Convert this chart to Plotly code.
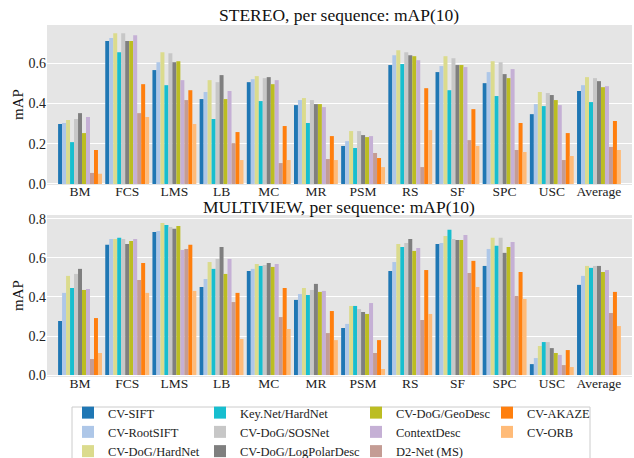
import plotly.graph_objects as go

categories = ["BM", "FCS", "LMS", "LB", "MC", "MR", "PSM", "RS", "SF", "SPC", "USC", "Average"]

methods = ["CV-SIFT", "CV-RootSIFT", "CV-DoG/HardNet", "Key.Net/HardNet", "CV-DoG/SOSNet",
           "CV-DoG/LogPolarDesc", "CV-DoG/GeoDesc", "ContextDesc", "D2-Net (MS)", "CV-AKAZE", "CV-ORB"]

colors = ["#1f77b4", "#aec7e8", "#dbdb8d", "#17becf", "#c7c7c7",
          "#7f7f7f", "#bcbd22", "#c5b0d5", "#c49c94", "#ff7f0e", "#ffbb78"]

# STEREO mAP(10), per method, per category
stereo_sift       = [0.298, 0.710, 0.566, 0.422, 0.506, 0.392, 0.189, 0.591, 0.556, 0.501, 0.347, 0.462]
stereo_rootsift   = [0.303, 0.725, 0.605, 0.457, 0.521, 0.417, 0.213, 0.640, 0.586, 0.556, 0.397, 0.491]
stereo_hardnet    = [0.318, 0.749, 0.655, 0.516, 0.536, 0.427, 0.263, 0.665, 0.635, 0.610, 0.457, 0.531]
stereo_keynet     = [0.208, 0.655, 0.491, 0.323, 0.412, 0.303, 0.179, 0.596, 0.466, 0.437, 0.387, 0.407]
stereo_sosnet     = [0.323, 0.749, 0.650, 0.506, 0.526, 0.417, 0.263, 0.655, 0.625, 0.605, 0.452, 0.526]
stereo_logpolar   = [0.352, 0.710, 0.605, 0.541, 0.531, 0.397, 0.243, 0.640, 0.591, 0.546, 0.442, 0.511]
stereo_geodesc    = [0.253, 0.710, 0.610, 0.422, 0.496, 0.397, 0.233, 0.635, 0.591, 0.526, 0.417, 0.481]
stereo_contextdesc= [0.333, 0.739, 0.516, 0.462, 0.516, 0.382, 0.238, 0.615, 0.581, 0.571, 0.392, 0.486]
stereo_d2net      = [0.055, 0.352, 0.417, 0.203, 0.104, 0.124, 0.154, 0.084, 0.218, 0.169, 0.119, 0.184]
stereo_akaze      = [0.169, 0.496, 0.466, 0.258, 0.288, 0.238, 0.129, 0.476, 0.372, 0.303, 0.253, 0.313]
stereo_orb        = [0.051, 0.333, 0.298, 0.119, 0.119, 0.119, 0.084, 0.268, 0.189, 0.159, 0.139, 0.169]

# MULTIVIEW mAP(10)
multi_sift        = [0.277, 0.667, 0.733, 0.451, 0.533, 0.385, 0.241, 0.533, 0.672, 0.559, 0.056, 0.462]
multi_rootsift    = [0.421, 0.697, 0.738, 0.492, 0.544, 0.415, 0.262, 0.579, 0.677, 0.646, 0.087, 0.508]
multi_hardnet     = [0.508, 0.697, 0.779, 0.579, 0.569, 0.446, 0.354, 0.672, 0.713, 0.703, 0.149, 0.559]
multi_keynet      = [0.446, 0.703, 0.769, 0.544, 0.559, 0.410, 0.354, 0.656, 0.744, 0.662, 0.169, 0.549]
multi_sosnet      = [0.518, 0.697, 0.759, 0.595, 0.564, 0.436, 0.338, 0.677, 0.697, 0.703, 0.169, 0.559]
multi_logpolar    = [0.544, 0.672, 0.749, 0.656, 0.574, 0.467, 0.323, 0.697, 0.692, 0.626, 0.138, 0.559]
multi_geodesc     = [0.436, 0.687, 0.764, 0.518, 0.554, 0.426, 0.313, 0.636, 0.692, 0.656, 0.113, 0.528]
multi_contextdesc = [0.441, 0.697, 0.641, 0.595, 0.569, 0.431, 0.369, 0.651, 0.718, 0.682, 0.103, 0.538]
multi_d2net       = [0.082, 0.487, 0.646, 0.374, 0.297, 0.215, 0.113, 0.282, 0.523, 0.405, 0.051, 0.318]
multi_akaze       = [0.292, 0.574, 0.667, 0.421, 0.446, 0.328, 0.179, 0.538, 0.585, 0.528, 0.128, 0.426]
multi_orb         = [0.113, 0.421, 0.431, 0.185, 0.236, 0.179, 0.031, 0.313, 0.451, 0.390, 0.041, 0.251]

stereo = [stereo_sift, stereo_rootsift, stereo_hardnet, stereo_keynet, stereo_sosnet, stereo_logpolar,
          stereo_geodesc, stereo_contextdesc, stereo_d2net, stereo_akaze, stereo_orb]
multi = [multi_sift, multi_rootsift, multi_hardnet, multi_keynet, multi_sosnet, multi_logpolar,
         multi_geodesc, multi_contextdesc, multi_d2net, multi_akaze, multi_orb]

W, H = 634, 458
FONT = "Liberation Serif"
BG = "#e5e5e5"

def px(x):
    return x / W

def py(y):
    return 1 - y / H

legend_cols = ["legend", "legend", "legend", "legend2", "legend2", "legend2",
               "legend3", "legend3", "legend3", "legend4", "legend4"]

fig = go.Figure()
for i, m in enumerate(methods):
    fig.add_trace(go.Bar(x=categories, y=stereo[i], name=m, marker=dict(color=colors[i], line=dict(width=0)),
                         xaxis="x", yaxis="y", legend=legend_cols[i], showlegend=True))
for i, m in enumerate(methods):
    fig.add_trace(go.Bar(x=categories, y=multi[i], name=m, marker=dict(color=colors[i], line=dict(width=0)),
                         xaxis="x2", yaxis="y2", showlegend=False))

xdom = [px(47), px(632)]
axis_common = dict(showgrid=False, zeroline=False, showline=False, ticks="", ticklabelstandoff=-4,
                   tickfont=dict(family=FONT, size=13.5, color="#222"), automargin=False)
yaxis_common = dict(showgrid=True, gridcolor="white", gridwidth=1.2, zeroline=False, showline=False,
                    ticks="", tickfont=dict(family=FONT, size=14, color="#222"), tickformat=".1f",
                    automargin=False)

leg_common = dict(font=dict(family=FONT, size=12.5, color="#222"), bgcolor="rgba(0,0,0,0)",
                  yanchor="top", xanchor="left", tracegroupgap=0, orientation="v")
leg_y = py(398)

fig.update_layout(
    width=W, height=H,
    margin=dict(l=0, r=0, t=0, b=0, autoexpand=False),
    paper_bgcolor="white", plot_bgcolor=BG,
    barmode="group", bargap=0.07, bargroupgap=0,
    xaxis=dict(domain=xdom, anchor="y", range=[-0.7, 11.7], **axis_common),
    yaxis=dict(domain=[py(185), py(25)], anchor="x", range=[-0.005, 0.79],
               tickvals=[0, 0.2, 0.4, 0.6], **yaxis_common),
    xaxis2=dict(domain=xdom, anchor="y2", range=[-0.7, 11.7], **axis_common),
    yaxis2=dict(domain=[py(377), py(215)], anchor="x2", range=[-0.01, 0.82],
                tickvals=[0, 0.2, 0.4, 0.6, 0.8], **yaxis_common),
    legend=dict(x=px(68), y=leg_y, **leg_common),
    legend2=dict(x=px(200), y=leg_y, **leg_common),
    legend3=dict(x=px(356), y=leg_y, **leg_common),
    legend4=dict(x=px(487), y=leg_y, **leg_common),
    showlegend=True,
)

fig.add_shape(type="rect", xref="paper", yref="paper", x0=px(72), x1=px(590), y0=py(470), y1=py(407),
              line=dict(color="#cccccc", width=1), fillcolor="white", layer="below")

fig.add_annotation(text="STEREO, per sequence: mAP(10)", x=px(339), y=py(15), xref="paper", yref="paper",
                   showarrow=False, font=dict(family=FONT, size=17.5, color="#111"), xanchor="center", yanchor="middle")
fig.add_annotation(text="MULTIVIEW, per sequence: mAP(10)", x=px(339), y=py(207), xref="paper", yref="paper",
                   showarrow=False, font=dict(family=FONT, size=17.5, color="#111"), xanchor="center", yanchor="middle")
for yc in [105, 296]:
    fig.add_annotation(text="mAP", x=px(18), y=py(yc), xref="paper", yref="paper", textangle=-90,
                       showarrow=False, font=dict(family=FONT, size=15, color="#111"),
                       xanchor="center", yanchor="middle")

# place the figure flush with the page corner (remove the default body margin)
fig.write_html("out.html", config={"displayModeBar": False},
               post_script="document.body.style.margin='0';document.body.style.overflow='hidden';")
